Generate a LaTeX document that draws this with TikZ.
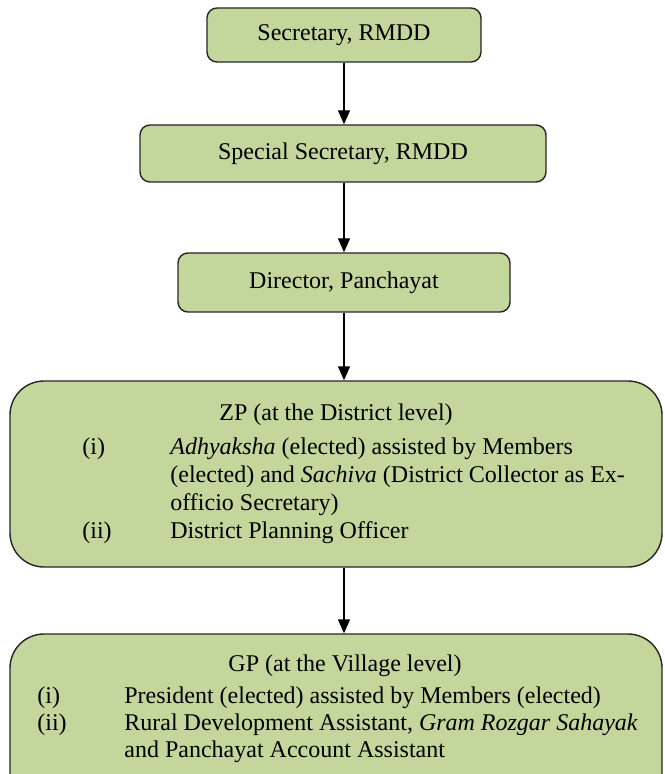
\documentclass[tikz,border=0pt]{standalone}
\usepackage{fontspec}
\setmainfont{Liberation Serif}
\usepackage{tikz}
\usetikzlibrary{arrows.meta}
\definecolor{boxgreen}{HTML}{C3D69B}
\definecolor{boxline}{HTML}{262626}

\begin{document}
\begin{tikzpicture}[x=0.5pt, y=-0.5pt,
  every node/.style={font=\fontsize{12}{13.5}\selectfont},
  smallbox/.style={draw=boxline, fill=boxgreen, line width=0.7pt, rounded corners=5pt, inner sep=0pt},
  bigbox/.style={draw=boxline, fill=boxgreen, line width=0.7pt, rounded corners=17pt, inner sep=0pt},
  down/.style={draw=black, line width=0.7pt, -{Triangle[length=7pt, width=6pt]}}]
\useasboundingbox (0,0) rectangle (664,774);
\fill[white] (0,0) rectangle (664,774);
\node[smallbox, minimum width=137pt, minimum height=27pt] (secy) at (344,35) {Secretary, RMDD};
\node[smallbox, minimum width=203pt, minimum height=28.5pt] (spsecy) at (343,153.5) {Special Secretary, RMDD};
\node[smallbox, minimum width=166pt, minimum height=29.5pt] (dir) at (344,282.5) {Director, Panchayat};
\node[bigbox, minimum width=326pt, minimum height=93pt] (zp) at (336,474) {};
\node[bigbox, minimum width=326pt, minimum height=98pt] (gp) at (336,732) {};
% ZP text
\node[inner sep=0pt, anchor=base] (zptitle) at (336,420) {ZP (at the District level)};
\node[inner sep=0pt, anchor=base west, font=\fontsize{12}{14}\selectfont] (zplist) at (82,454) {\begin{tabular}[t]{@{}p{44pt}@{}l@{}}
(i) & \textit{Adhyaksha} (elected) assisted by Members\\
 & (elected) and \textit{Sachiva} (District Collector as Ex-\\
 & officio Secretary)\\
(ii) & District Planning Officer
\end{tabular}};
% GP text
\node[inner sep=0pt, anchor=base] (gptitle) at (345,671) {GP (at the Village level)};
\node[inner sep=0pt, anchor=base west] (gplist) at (37,703) {\begin{tabular}[t]{@{}p{43.5pt}@{}l@{}}
(i) & President (elected) assisted by Members (elected)\\
(ii) & Rural Development Assistant, \textit{Gram Rozgar Sahayak}\\
 & and Panchayat Account Assistant
\end{tabular}};
\draw[down] (secy.south) -- (secy.south |- spsecy.north);
\draw[down] (spsecy.south -| secy.south) -- (secy.south |- dir.north);
\draw[down] (dir.south) -- (dir.south |- zp.north);
\draw[down] (zp.south -| dir.south) -- (dir.south |- gp.north);
\end{tikzpicture}
\end{document}
